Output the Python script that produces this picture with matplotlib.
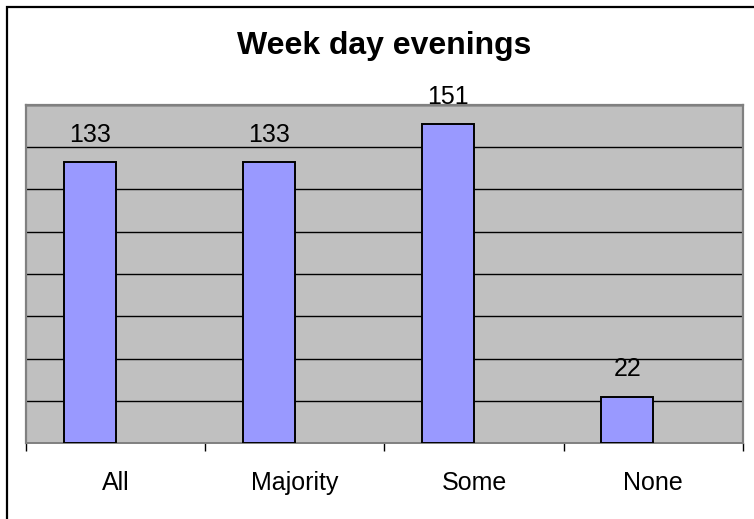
import matplotlib
matplotlib.use("Agg")
import matplotlib.pyplot as plt
from matplotlib.patches import Rectangle
import numpy as np

# ── data ──
categories = ["All", "Majority", "Some", "None"]
counts = [133, 133, 151, 22]
title = "Week day evenings"

BAR = "#9999FF"
PLOT_BG = "#C0C0C0"
GRAY = "#808080"

plt.rcParams["font.family"] = ["Liberation Sans", "DejaVu Sans"]

fig = plt.figure(figsize=(7.54, 5.19), dpi=100)
ax = fig.add_axes([26 / 754, 76 / 519, 717 / 754, 338 / 519])
ax.set_facecolor(PLOT_BG)

x = np.arange(len(categories))
bw = 0.29
# bars sit left of the category centre (Excel layout with an empty 2nd series)
ax.bar(x - bw / 2, counts, width=bw, color=BAR, edgecolor="black", linewidth=1.4, zorder=3)

ax.set_xlim(-0.5, len(categories) - 0.5)
ax.set_ylim(0, 160)
ax.set_yticks(np.arange(0, 161, 20))
ax.yaxis.grid(True, color="black", linewidth=1.0, zorder=1)
ax.set_axisbelow(True)
ax.tick_params(axis="y", left=False, labelleft=False)

# category labels in the middle, tick marks at boundaries
ax.set_xticks(x)
ax.set_xticklabels(categories, fontsize=18)
ax.tick_params(axis="x", which="major", length=0, pad=20)
ax.set_xticks(np.arange(-0.5, len(categories), 1.0), minor=True)
ax.tick_params(axis="x", which="minor", length=6, width=1.0, color="black", direction="out")

for s in ["top", "right", "left"]:
    ax.spines[s].set_color(GRAY)
    ax.spines[s].set_linewidth(1.6)
ax.spines["bottom"].set_color(GRAY)
ax.spines["bottom"].set_linewidth(1.4)

for xi, v in zip(x, counts):
    ax.annotate(str(v), (xi - bw / 2, v), xytext=(0, 11), textcoords="offset points",
                ha="center", va="bottom", fontsize=18)

fig.text(384.5 / 754, 1 - 46 / 519, title, ha="center", va="center",
         fontsize=23, fontweight="bold")

# outer chart border (left and top visible)
fig.add_artist(Rectangle((7 / 754, -0.05), 1.1, 1 - 7 / 519 + 0.05,
                         transform=fig.transFigure, fill=False,
                         edgecolor="black", linewidth=1.6))

fig.savefig("out.png", dpi=100)
